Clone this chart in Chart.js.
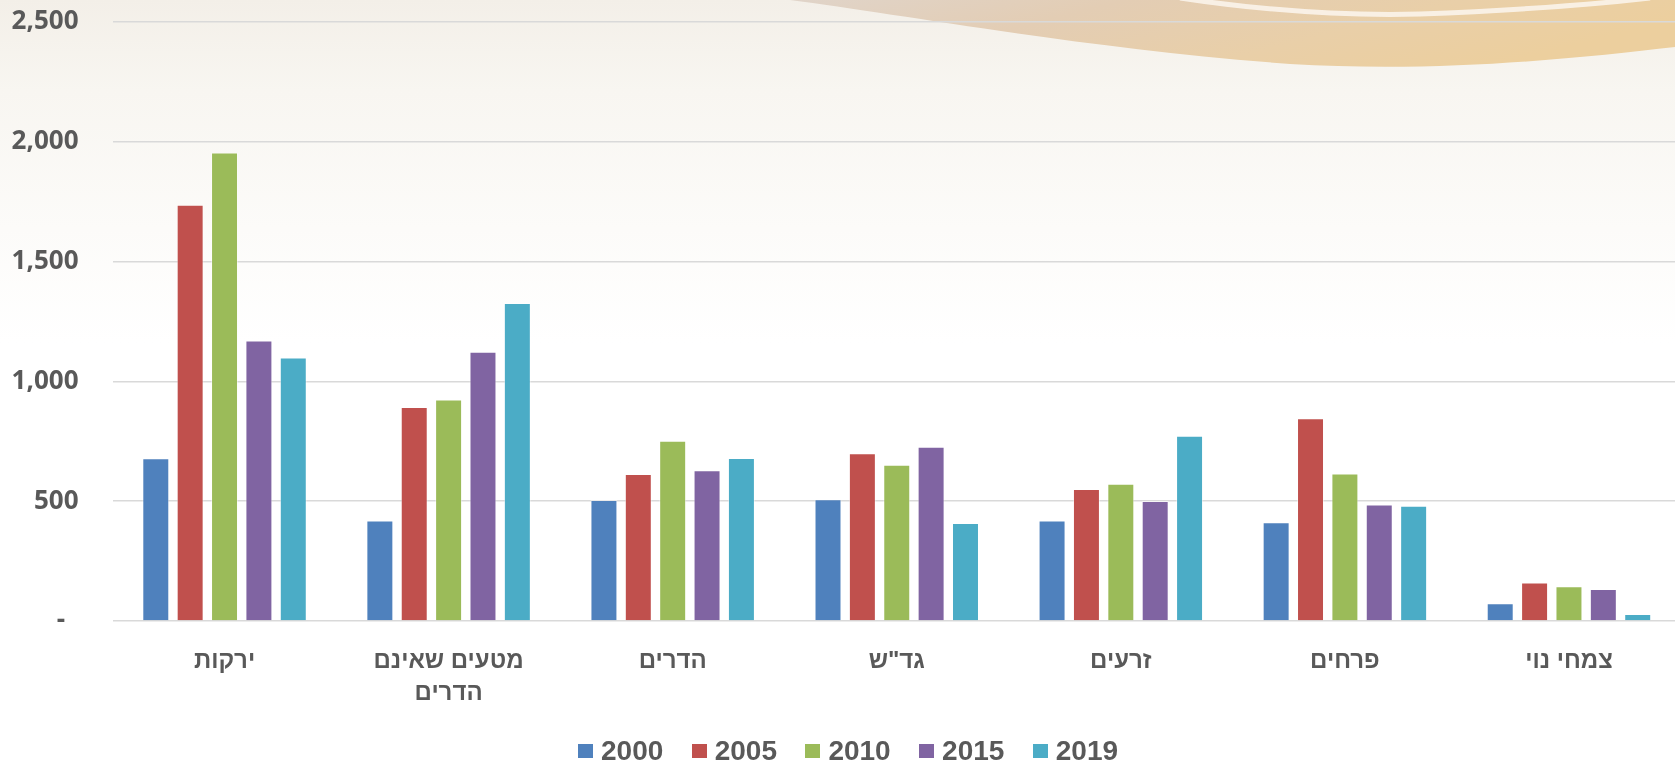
<!DOCTYPE html>
<html lang="he">
<head>
<meta charset="utf-8">
<script src="https://cdn.jsdelivr.net/npm/chart.js@4.4.1/dist/chart.umd.min.js"></script>
<style>
  html, body { margin: 0; padding: 0; width: 1675px; height: 762px; overflow: hidden; background: #ffffff; }
  #bg { position: absolute; left: 0; top: 0; }
  #wrap { position: absolute; left: 0; top: 0; width: 1681px; height: 762px; }
  #legend { position: absolute; left: 578px; top: 734px; display: flex; font-family: "Liberation Sans", Arial, sans-serif; font-weight: bold; font-size: 28px; color: #595959; }
  .item { display: flex; align-items: center; width: 113.7px; height: 34px; white-space: nowrap; }
  .box { width: 15px; height: 14px; margin-right: 8px; flex: none; }
</style>
</head>
<body>
<svg id="bg" width="1675" height="762" xmlns="http://www.w3.org/2000/svg">
  <defs>
    <linearGradient id="gbg" x1="0" y1="0" x2="0" y2="1">
      <stop offset="0" stop-color="#f3efe8"/>
      <stop offset="0.12" stop-color="#f8f6f1"/>
      <stop offset="0.3" stop-color="#fcfbf9"/>
      <stop offset="0.45" stop-color="#ffffff"/>
      <stop offset="1" stop-color="#ffffff"/>
    </linearGradient>
    <linearGradient id="ggold" x1="0" y1="0" x2="1" y2="0.3">
      <stop offset="0" stop-color="#e0d4c9"/>
      <stop offset="0.35" stop-color="#e3cdb4"/>
      <stop offset="0.7" stop-color="#e9cfa8"/>
      <stop offset="1" stop-color="#eccf9e"/>
    </linearGradient>
  </defs>
  <rect x="0" y="0" width="1675" height="762" fill="url(#gbg)"/>
  <path d="M 790 0 C 900 14, 1080 48, 1290 64 C 1440 73, 1580 58, 1675 47 L 1675 0 Z" fill="url(#ggold)"/>
  <path d="M 1180 -2 C 1260 10, 1340 16, 1420 14 C 1500 11, 1580 6, 1650 -2" stroke="#fbf6ee" stroke-width="5" fill="none" opacity="0.85"/>
</svg>
<div id="wrap"><canvas id="c"></canvas></div>
<div id="legend"></div>
<script>
const categories = ['ירקות', ['מטעים שאינם', 'הדרים'], 'הדרים', 'גד"ש', 'זרעים', 'פרחים', 'צמחי נוי'];
const seriesNames = ['2000', '2005', '2010', '2015', '2019'];
const v2000 = [679, 419, 505, 508, 419, 412, 74];
const v2005 = [1737, 893, 614, 700, 551, 846, 161];
const v2010 = [1955, 924, 752, 652, 573, 616, 145];
const v2015 = [1171, 1124, 629, 727, 501, 486, 134];
const v2019 = [1100, 1327, 680, 409, 773, 481, 29];
const yTicks = [0, 500, 1000, 1500, 2000, 2500];

const colors = ['#4F81BD', '#C0504D', '#9BBB59', '#8064A2', '#4BACC6'];
const seriesValues = [v2000, v2005, v2010, v2015, v2019];

const datasets = seriesNames.map((n, i) => ({
  label: n,
  data: seriesValues[i],
  backgroundColor: colors[i],
  borderColor: 'rgba(255,255,255,0.45)',
  borderWidth: 1,
  categoryPercentage: 0.767,
  barPercentage: 0.785
}));

new Chart(document.getElementById('c'), {
  type: 'bar',
  data: { labels: categories, datasets },
  options: {
    responsive: true,
    maintainAspectRatio: false,
    animation: false,
    layout: { padding: { top: 22, right: 0, bottom: 0, left: 0 } },
    plugins: { legend: { display: false }, tooltip: { enabled: false } },
    scales: {
      x: {
        grid: { display: false, drawTicks: false },
        border: { display: false },
        ticks: {
          padding: 24,
          color: '#595959',
          font: { family: '"Liberation Sans", Arial, sans-serif', size: 24, weight: 'bold', lineHeight: 1.333 },
          maxRotation: 0, autoSkip: false
        },
        afterFit: s => { s.height = 141; s.paddingLeft = 0; s.paddingRight = 0; }
      },
      y: {
        min: 0, max: 2500,
        afterBuildTicks: s => { s.ticks = yTicks.map(v => ({ value: v })); },
        grid: { color: '#d9d9d9', lineWidth: 1.5, drawTicks: false },
        border: { display: false },
        ticks: {
          padding: 34,
          color: '#595959',
          font: { family: '"Open Sans", sans-serif', size: 26, weight: 'bold' },
          callback: v => v === 0 ? '-  ' : v.toLocaleString('en-US')
        },
        afterFit: s => { s.width = 112.5; s.paddingTop = 0; s.paddingBottom = 0; }
      }
    }
  }
});

const lg = document.getElementById('legend');
seriesNames.forEach((n, i) => {
  const it = document.createElement('div'); it.className = 'item';
  const b = document.createElement('span'); b.className = 'box'; b.style.background = colors[i];
  const t = document.createElement('span'); t.textContent = n;
  it.appendChild(b); it.appendChild(t); lg.appendChild(it);
});
</script>
</body>
</html>
